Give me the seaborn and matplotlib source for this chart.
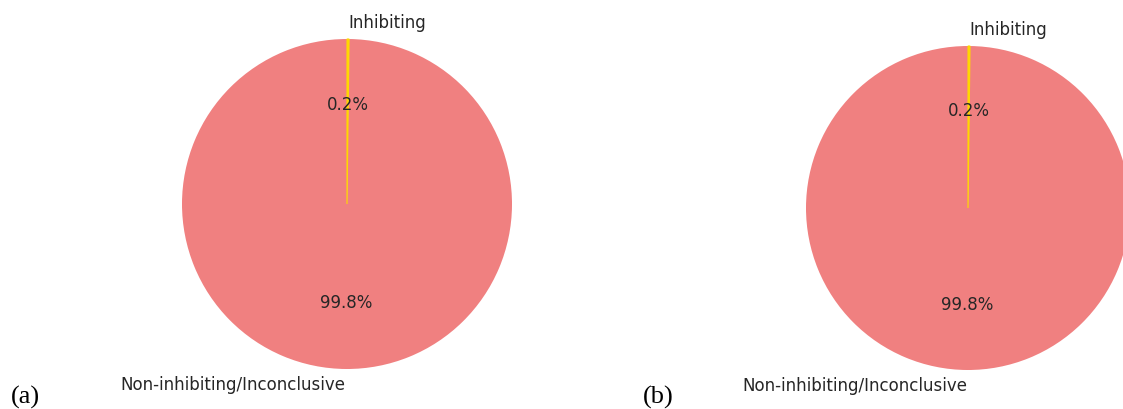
import matplotlib
matplotlib.use("Agg")
import matplotlib.pyplot as plt
import seaborn as sns

# Share of compounds per activity class, for the two datasets
labels = ["Inhibiting", "Non-inhibiting/Inconclusive"]
share_a = [0.2, 99.8]
share_b = [0.2, 99.8]
panel_tags = ["(a)", "(b)"]
slice_colors = ["gold", "lightcoral"]

sns.set_theme(style="white")
plt.rcParams["font.family"] = ["DejaVu Sans"]

W, H = 1123, 409
fig = plt.figure(figsize=(W / 100, H / 100), dpi=100)


def pie_axes(cx, cy, r, lim=1.25):
    s = lim * r
    ax = fig.add_axes([(cx - s) / W, (H - cy - s) / H, 2 * s / W, 2 * s / H])
    return ax, lim


def draw_pie(ax, lim, values):
    colors = sns.color_palette(slice_colors)
    wedges, _, _ = ax.pie(
        values, labels=labels, colors=colors, autopct="%1.1f%%",
        startangle=90, counterclock=False,
        wedgeprops={"linewidth": 0, "edgecolor": "none"},
        textprops={"fontsize": 12, "color": ".15"},
    )
    # keep the very thin slice visible on top of the large one
    wedges[0].set_edgecolor(colors[0])
    wedges[0].set_linewidth(0.8)
    wedges[0].set_zorder(3)
    ax.set_xlim(-lim, lim)
    ax.set_ylim(-lim, lim)
    ax.set_aspect("auto")
    ax.axis("off")


ax_a, lim_a = pie_axes(347, 204, 165)
draw_pie(ax_a, lim_a, share_a)
ax_b, lim_b = pie_axes(968, 208, 162)
draw_pie(ax_b, lim_b, share_b)

fig.text(11 / W, 1 - 404 / H, panel_tags[0], family="Liberation Serif",
         fontsize=19, color="black", ha="left", va="baseline")
fig.text(643 / W, 1 - 404 / H, panel_tags[1], family="Liberation Serif",
         fontsize=19, color="black", ha="left", va="baseline")

fig.savefig("out.png", dpi=100)
